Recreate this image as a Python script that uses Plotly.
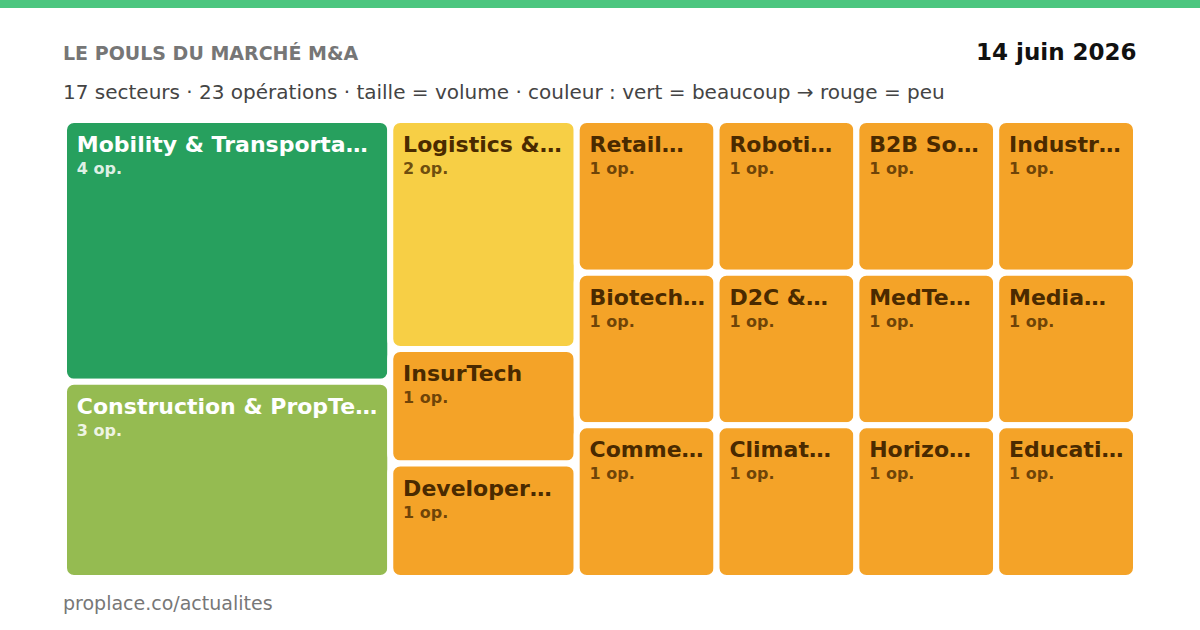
import plotly.graph_objects as go

W, H = 1200, 630

sectors = [
    "Mobility & Transporta…", "Construction & PropTe…", "Logistics &…",
    "InsurTech", "Developer…", "Retail…", "Biotech…", "Comme…",
    "Roboti…", "B2B So…", "Industr…", "D2C &…", "Climat…",
    "MedTe…", "Media…", "Horizo…", "Educati…",
]
operations = [4, 3, 2, 1, 1, 1, 1, 1, 1, 1, 1, 1, 1, 1, 1, 1, 1]

GREEN, LIME, YELLOW, ORANGE = "#27a05e", "#95bb51", "#f7cf45", "#f4a328"
def cell_color(v):
    return {4: GREEN, 3: LIME, 2: YELLOW}.get(v, ORANGE)
def text_color(v):
    return "#ffffff" if v >= 3 else "#4a2a00"
def sub_color(v):
    return "rgba(255,255,255,0.85)" if v >= 3 else "rgba(74,42,0,0.78)"

# leading non-breaking space acts as inner padding of the label
LEAD = "<span style='font-size:31px'>&nbsp;</span>"

colors = [cell_color(v) for v in operations]
texts = [
    f"{LEAD}<span style='font-size:22px'><b>{s}</b></span><br>"
    f"{LEAD}<span style='font-size:16px;color:{sub_color(v)}'><b>{v} op.</b></span>"
    for s, v in zip(sectors, operations)
]

PAD = 10
fig = go.Figure(go.Treemap(
    labels=sectors,
    parents=[""] * len(sectors),
    values=operations,
    text=texts,
    texttemplate="%{text}",
    textposition="top left",
    textfont=dict(family="DejaVu Sans", size=17, color=[text_color(v) for v in operations]),
    marker=dict(colors=colors, line=dict(width=6, color="#ffffff"), cornerradius=10,
                pad=dict(t=PAD, l=PAD, r=PAD, b=PAD)),
    sort=True,
    tiling=dict(packing="squarify", squarifyratio=1, pad=0),
    pathbar=dict(visible=False),
    hoverinfo="skip",
    domain=dict(x=[(64 - PAD) / W, (1136 + PAD) / W],
                y=[(52 - PAD) / H, (510 + PAD) / H]),
))

fig.update_layout(
    width=W, height=H,
    margin=dict(l=0, r=0, t=0, b=0),
    paper_bgcolor="#ffffff",
    font=dict(family="DejaVu Sans"),
    showlegend=False,
    shapes=[dict(type="rect", xref="paper", yref="paper", x0=0, x1=1,
                 y0=1 - 8 / H, y1=1, fillcolor="#4cc67f", line=dict(width=0))],
    annotations=[
        dict(text="<b>LE POULS DU MARCHÉ M&A</b>", x=61 / W, y=1 - 53 / H,
             xref="paper", yref="paper", xanchor="left", yanchor="middle",
             showarrow=False, font=dict(size=19, color="#767676")),
        dict(text="<b>14 juin 2026</b>", x=1139 / W, y=1 - 52 / H,
             xref="paper", yref="paper", xanchor="right", yanchor="middle",
             showarrow=False, font=dict(size=23, color="#111111")),
        dict(text="17 secteurs · 23 opérations · taille = volume · couleur : vert = beaucoup → rouge = peu",
             x=61 / W, y=1 - 92 / H, xref="paper", yref="paper",
             xanchor="left", yanchor="middle", showarrow=False,
             font=dict(size=20, color="#444444")),
        dict(text="proplace.co/actualites", x=61 / W, y=1 - 603 / H,
             xref="paper", yref="paper", xanchor="left", yanchor="middle",
             showarrow=False, font=dict(size=19, color="#777777")),
    ],
)

fig.write_html("out.html", config={"displayModeBar": False},
               post_script="document.body.style.margin='0';")
